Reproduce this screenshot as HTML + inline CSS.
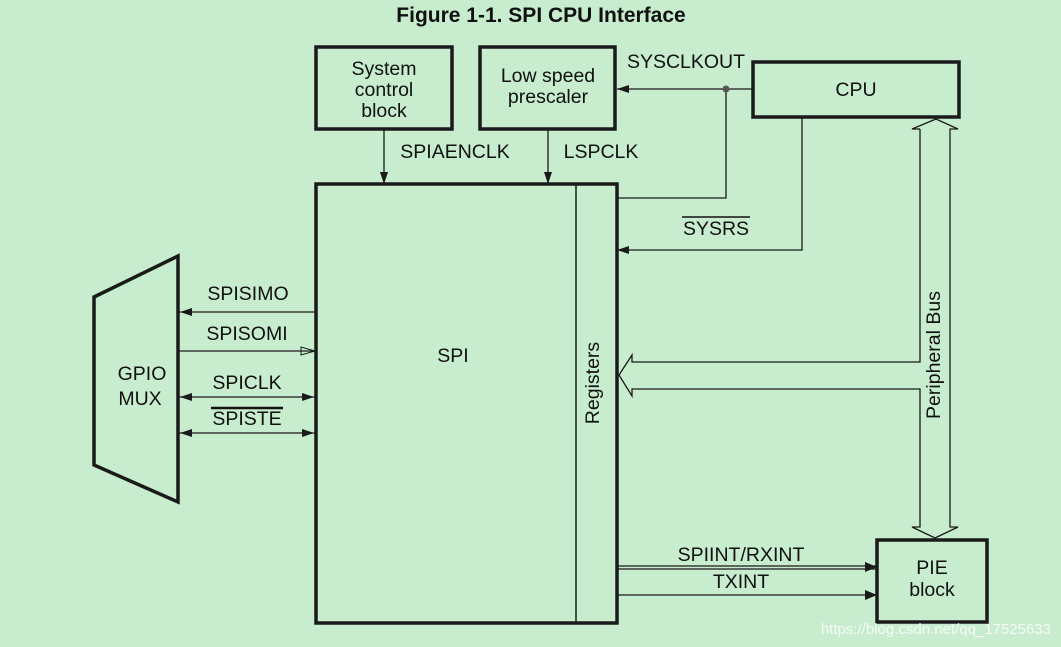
<!DOCTYPE html>
<html><head><meta charset="utf-8"><style>
body{margin:0;background:#c7ecce;}
svg{display:block;font-family:"Liberation Sans",Arial,sans-serif;}
</style></head><body>
<svg width="1061" height="647" viewBox="0 0 1061 647">
<rect width="1061" height="647" fill="#c7ecce"/>
<text x="541" y="22" text-anchor="middle" font-weight="bold" font-size="21" fill="#111">Figure 1-1. SPI CPU Interface</text>
<g fill="none" stroke="#1a1a1a" stroke-width="3.5">
<rect x="316" y="47" width="136" height="82"/>
<rect x="480" y="47" width="135" height="82"/>
<rect x="753" y="62" width="206" height="55"/>
<rect x="316" y="184" width="301" height="439"/>
<rect x="877" y="540" width="110" height="82"/>
<polygon points="94,297 178,256 178,502 94,465"/>
</g>
<line x1="576" y1="184" x2="576" y2="623" stroke="#1a1a1a" stroke-width="1.5"/>
<g stroke="#1a1a1a" stroke-width="1.3" fill="none">
<line x1="384" y1="129" x2="384" y2="184"/>
<line x1="548" y1="129" x2="548" y2="184"/>
<line x1="617" y1="89" x2="753" y2="89"/>
<polyline points="726,89 726,198 617,198"/>
<polyline points="802,117 802,250 617,250"/>
<polyline points="920,129 920,362 632,362 632,355 619,375 632,396 632,389 920,389 920,527 912,527 935,538 958,527 950,527 950,129 958,129 936,119 912,129 920,129"/>
<line x1="178" y1="312" x2="316" y2="312"/>
<line x1="178" y1="351" x2="316" y2="351"/>
<line x1="178" y1="397" x2="316" y2="397"/>
<line x1="178" y1="433" x2="316" y2="433"/>
<line x1="617" y1="566" x2="877" y2="566"/>
<line x1="617" y1="569" x2="877" y2="569"/>
<line x1="617" y1="595" x2="877" y2="595"/>
</g>
<g fill="#1a1a1a">
<polygon points="384,184 380,172 388,172"/>
<polygon points="548,184 544,172 552,172"/>
<polygon points="617,89 629,85 629,93"/>
<polygon points="617,250 629,246 629,254"/>
<polygon points="180,312 192,308 192,316"/>
<polygon points="180,397 192,393 192,401"/>
<polygon points="314,397 302,393 302,401"/>
<polygon points="180,433 192,429 192,437"/>
<polygon points="314,433 302,429 302,437"/>
<polygon points="877,567 865,562 865,572"/>
<polygon points="877,595 865,590 865,600"/>
<circle cx="726" cy="89" r="3.5" fill="#555"/>
</g>
<polygon points="315,351 301,347 301,355" fill="none" stroke="#1a1a1a" stroke-width="1"/>
<g font-size="19.5" fill="#111" text-anchor="middle">
<text x="384" y="75">System</text><text x="384" y="96">control</text><text x="384" y="117">block</text>
<text x="548" y="82">Low speed</text><text x="548" y="103">prescaler</text>
<text x="856" y="96">CPU</text>
<text x="686" y="68">SYSCLKOUT</text>
<text x="455" y="158">SPIAENCLK</text>
<text x="601" y="158">LSPCLK</text>
<text x="716" y="235">SYSRS</text>
<text x="453" y="362">SPI</text>
<text x="248" y="300">SPISIMO</text>
<text x="247" y="340">SPISOMI</text>
<text x="247" y="389">SPICLK</text>
<text x="247" y="425">SPISTE</text>
<text x="142" y="380">GPIO</text><text x="140" y="405">MUX</text>
<text x="741" y="561">SPIINT/RXINT</text>
<text x="741" y="588">TXINT</text>
<text x="932" y="574">PIE</text><text x="932" y="596">block</text>
<text transform="translate(599,383) rotate(-90)">Registers</text>
<text transform="translate(940,355) rotate(-90)">Peripheral Bus</text>
</g>
<line x1="682" y1="217" x2="750" y2="217" stroke="#111" stroke-width="1.5"/>
<line x1="211" y1="408" x2="283" y2="408" stroke="#111" stroke-width="2.5"/>
<text x="1051" y="634" text-anchor="end" font-size="15" fill="#ffffff" fill-opacity="0.8">https://blog.csdn.net/qq_17525633</text>
</svg>
</body></html>
